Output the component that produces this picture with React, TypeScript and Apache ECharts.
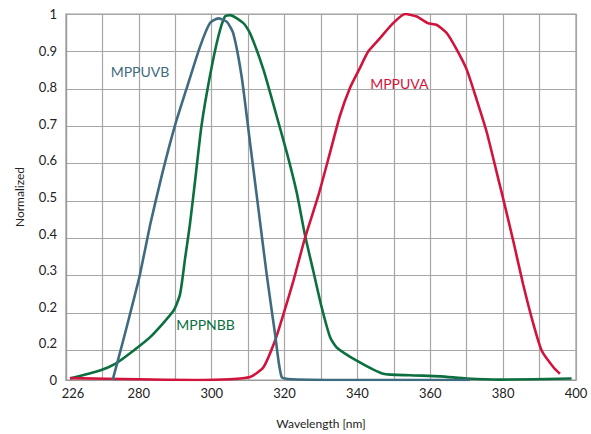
import React, { useEffect, useRef } from "react";
import * as echarts from "echarts";

// Tick labels as printed on the reference
const xTickValues = [260, 280, 300, 320, 340, 360, 380, 400];
const xTickLabels = ["226", "280", "300", "320", "340", "360", "380", "400"];
const yTickLabels = ["0", "0.2", "0.2", "0.3", "0.4", "0.5", "0.6", "0.7", "0.8", "0.9", "1"];

// MPPUVB (wavelength nm, normalized)
const uvbX = [272.8, 275.7, 278.5, 280.3, 283.1, 286.3, 289.9, 293.6, 296.8, 299.5, 301.8, 304.1, 305.9, 308.2, 310.5, 312.8, 315.1, 317.4, 319.2, 322.0, 340.0, 370.9];
const uvbY = [0.0, 0.108, 0.216, 0.288, 0.424, 0.559, 0.695, 0.812, 0.911, 0.975, 0.988, 0.979, 0.948, 0.83, 0.65, 0.469, 0.288, 0.125, 0.008, 0.002, 0.0, 0.0];

// MPPNBB
const nbbX = [261.1, 269.3, 273.5, 278.5, 283.1, 289.5, 291.3, 292.7, 294.0, 295.4, 297.2, 299.5, 301.8, 303.6, 305.0, 308.7, 310.5, 314.2, 317.8, 320.6, 323.3, 325.6, 327.9, 330.2, 332.5, 334.3, 339.8, 347.1, 354.4, 362.7, 370.0, 379.1, 398.8];
const nbbY = [0.004, 0.026, 0.044, 0.08, 0.117, 0.189, 0.234, 0.333, 0.424, 0.541, 0.695, 0.83, 0.938, 0.993, 0.997, 0.975, 0.948, 0.848, 0.722, 0.622, 0.514, 0.396, 0.297, 0.198, 0.117, 0.089, 0.053, 0.017, 0.013, 0.01, 0.004, 0.001, 0.004];

// MPPUVA
const uvaX = [261.1, 280, 295, 305, 310.5, 314.2, 317.4, 319.7, 322.4, 325.6, 329.3, 332.5, 335.2, 338.0, 340.7, 343.0, 346.2, 349.8, 353.1, 356.3, 359.3, 361.8, 364.5, 367.3, 370.0, 372.7, 375.5, 379.1, 380.0, 382.8, 385.5, 388.3, 390.6, 393.8, 395.6];
const uvaY = [0.005, 0.002, 0.0, 0.002, 0.008, 0.035, 0.108, 0.18, 0.27, 0.388, 0.505, 0.622, 0.722, 0.799, 0.853, 0.898, 0.934, 0.975, 1.0, 0.993, 0.975, 0.97, 0.948, 0.902, 0.848, 0.767, 0.677, 0.532, 0.496, 0.379, 0.261, 0.153, 0.08, 0.035, 0.017];

const seriesNames = ["MPPUVB", "MPPNBB", "MPPUVA"];
const seriesColors = ["#3f6b80", "#0b6f3f", "#d2143c"];
// Annotation anchors in data coordinates [nm, value]
const labelAnchors: [number, number][] = [
  [280.3, 0.843],
  [298.3, 0.152],
  [351.5, 0.81],
];

const FONT = "Lato, 'DejaVu Sans', sans-serif";

function pairs(xs: number[], ys: number[]) {
  return xs.map((x, i) => [x, ys[i]]);
}

export default function App() {
  const ref = useRef<HTMLDivElement>(null);
  useEffect(() => {
    if (!ref.current) return;
    const chart = echarts.init(ref.current, undefined, { renderer: "svg" });
    const datas = [pairs(uvbX, uvbY), pairs(nbbX, nbbY), pairs(uvaX, uvaY)];
    chart.setOption({
      animation: false,
      backgroundColor: "#ffffff",
      grid: {
        left: 66,
        right: 15,
        top: 14,
        bottom: 51,
        show: true,
        borderColor: "#9a9a9a",
        borderWidth: 1.2,
      },
      xAxis: {
        type: "value",
        min: 260,
        max: 400,
        interval: 10,
        name: "Wavelength [nm]",
        nameLocation: "middle",
        nameGap: 37,
        nameTextStyle: { fontFamily: FONT, fontSize: 12, color: "#222" },
        axisLine: { show: true, lineStyle: { color: "#9a9a9a", width: 1.2 } },
        axisTick: { show: false },
        axisLabel: {
          margin: 6,
          fontFamily: FONT,
          fontSize: 13,
          color: "#222",
          formatter: (v: number) => {
            const i = xTickValues.indexOf(Math.round(v));
            if (i < 0) return "";
            return i === 0 ? "{first|" + xTickLabels[i] + "}" : xTickLabels[i];
          },
          rich: {
            first: { fontFamily: FONT, fontSize: 13, color: "#222", padding: [0, 0, 0, 14] },
          },
        },
        splitLine: { show: true, lineStyle: { color: "#a6a6a6", width: 1.2 } },
      },
      yAxis: [
        {
          type: "value",
          min: 0,
          max: 1,
          interval: 0.1,
          name: "Normalized",
          nameLocation: "middle",
          nameGap: 41,
          nameRotate: 90,
          nameTextStyle: { fontFamily: FONT, fontSize: 12, color: "#222" },
          axisLine: { show: true, lineStyle: { color: "#9a9a9a", width: 1.2 } },
          axisTick: { show: false },
          axisLabel: {
            margin: 9,
            fontFamily: FONT,
            fontSize: 13,
            color: "#222",
            formatter: (v: number) => yTickLabels[Math.round(v * 10)] ?? "",
          },
          splitLine: { show: false },
        },
        {
          type: "value",
          inverse: true,
          min: 0,
          max: 0.979,
          interval: 0.1,
          position: "left",
          axisLine: { show: false },
          axisTick: { show: false },
          axisLabel: { show: false },
          splitLine: { show: true, lineStyle: { color: "#a6a6a6", width: 1.2 } },
        },
      ],
      series: datas.map((d, i) => ({
        name: seriesNames[i],
        type: "line",
        yAxisIndex: 0,
        data: d,
        smooth: 0.2,
        showSymbol: false,
        symbol: "none",
        clip: true,
        lineStyle: { color: seriesColors[i], width: 2.6 },
        z: 3 + (i === 0 ? 1 : 0),
        markPoint: {
          symbol: "circle",
          symbolSize: 1,
          itemStyle: { color: "rgba(0,0,0,0)" },
          label: {
            show: true,
            position: "inside",
            formatter: seriesNames[i],
            color: seriesColors[i],
            fontFamily: FONT,
            fontSize: 14,
          },
          data: [{ coord: labelAnchors[i] }],
        },
      })),
    });
    return () => chart.dispose();
  }, []);
  return (
    <div
      ref={ref}
      style={{ position: "fixed", left: 0, top: 0, width: 591, height: 434, background: "#fff" }}
    />
  );
}
